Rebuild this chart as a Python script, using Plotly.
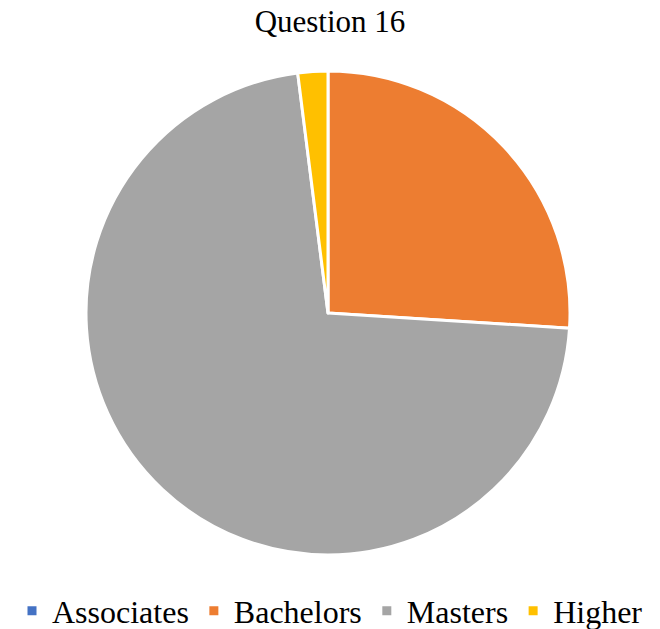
import plotly.graph_objects as go

# Highest degree earned, survey question 16
categories = ["Associates", "Bachelors", "Masters", "Higher"]
counts = [0, 13, 36, 1]
colors = ["#4472C4", "#ED7D31", "#A5A5A5", "#FFC000"]

W, H = 660, 629
SERIF = "Liberation Serif, Times New Roman, serif"

fig = go.Figure(
    go.Pie(
        labels=categories,
        values=counts,
        sort=False,
        direction="clockwise",
        rotation=0,
        textinfo="none",
        hoverinfo="label+value+percent",
        marker=dict(colors=colors, line=dict(color="white", width=3)),
        domain=dict(x=[86 / W, 570 / W], y=[1 - 555 / H, 1 - 71 / H]),
    )
)

fig.update_layout(
    width=W,
    height=H,
    margin=dict(l=0, r=0, t=0, b=0, autoexpand=False),
    paper_bgcolor="white",
    plot_bgcolor="white",
    font=dict(family=SERIF, color="black"),
    title=dict(
        text="Question 16",
        x=0.5,
        xanchor="center",
        y=1 - 21 / H,
        yanchor="middle",
        font=dict(size=31, family=SERIF, color="black"),
    ),
    legend=dict(
        orientation="h",
        x=0.5,
        xanchor="center",
        y=1 - 611 / H,
        yanchor="middle",
        font=dict(size=32, family=SERIF, color="black"),
        bgcolor="rgba(0,0,0,0)",
    ),
    showlegend=True,
)

fig.write_html("out.html")
